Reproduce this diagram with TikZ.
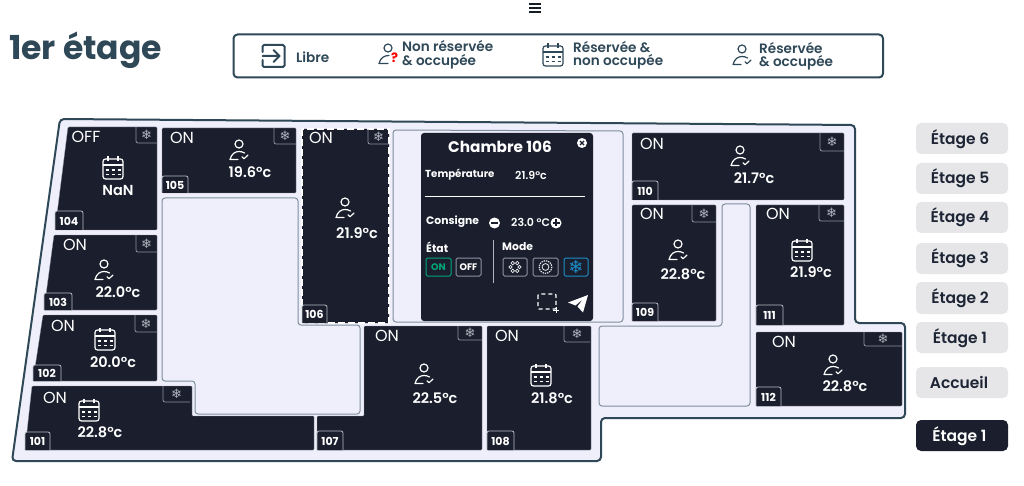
\documentclass[tikz,border=0pt]{standalone}
\usepackage{fontspec}
\setmainfont{Poppins}
\newfontfamily\snowfont{DejaVu Sans}
\newfontfamily\semi{Poppins SemiBold}
\newfontfamily\medi{Poppins Medium}
\definecolor{roomc}{HTML}{1A1E2D}
\definecolor{floorc}{HTML}{EFEFFB}
\definecolor{slatec}{HTML}{2F4858}
\definecolor{edgec}{HTML}{7F8E9E}
\definecolor{tabc}{HTML}{8C94A3}
\definecolor{btnc}{HTML}{E6E6E9}
\definecolor{greenc}{HTML}{00A878}
\definecolor{bluec}{HTML}{1C8FCB}
\newcommand\fsz[1]{\fontsize{#1}{#1}\selectfont}
\tikzset{
  x=1pt,y=-1pt,
  room/.style={fill=roomc,draw=tabc,line width=.3,rounded corners=1},
  freeroom/.style={fill=floorc,draw=edgec,line width=1,rounded corners=3},
  floorplan/.style={fill=floorc,draw=slatec,line width=2,rounded corners=4},
  stateon/.style={text=white,inner sep=0,font=\fsz{16}},
  temptext/.style={text=white,inner sep=0,font=\fsz{14.5}\semi},
  numtext/.style={text=white,inner sep=0,font=\fsz{11}\bfseries},
  snowicon/.style={text=tabc!70!white,inner sep=0,font=\fsz{13}\snowfont},
  legendtext/.style={text=slatec,inner sep=0,anchor=west,align=left,font=\fsz{13.6}\semi},
  btn/.style={fill=btnc,rounded corners=5,draw=none},
  btntext/.style={text=roomc!85!slatec,inner sep=0,font=\fsz{15.5}\semi},
  poptext/.style={text=white,inner sep=0,anchor=west,font=\fsz{10.2}\bfseries},
  modebtn/.style={draw=#1,line width=1,rounded corners=1.5},
  pics/person/.style={code={
    \draw[line width=1.2,line cap=round,line join=round]
      (0,-6) circle (4)
      (-1,9.5) -- (-9,9.5) .. controls (-7.5,3.5) and (-3.5,1.5) .. (0,1.5) .. controls (2,1.5) and (4,2) .. (5.5,3)
      (3,6.8) -- (5,8.8) -- (9,5);}},
  pics/personq/.style={code={
    \draw[line width=1.2,line cap=round,line join=round]
      (0,-6) circle (4)
      (0,9.5) -- (-9,9.5) .. controls (-7.5,3.5) and (-3.5,1.5) .. (1,1.5);}},
  pics/cal/.style={code={
    \draw[line width=1.2,rounded corners=2.5] (-10,-9) rectangle (10,11);
    \draw[line width=1.2] (-10,-3) -- (10,-3) (-5,-11.5) -- (-5,-7) (5,-11.5) -- (5,-7);
    \foreach \a in {-6,0,6}{\draw[line width=1.1] (\a-1.5,2) -- (\a+1.5,2) (\a-1.5,6.5) -- (\a+1.5,6.5);}}},
  pics/enter/.style={code={
    \draw[line width=2,rounded corners=1.5,line cap=round] (-11,-4) -- (-11,-11) -- (11,-11) -- (11,11) -- (-11,11) -- (-11,4);
    \draw[line width=2,line cap=round,line join=round] (-11,0) -- (6,0) (0,-6) -- (6,0) -- (0,6);}},
}
\newcommand\snowtab[4]{%
  \draw[draw=tabc,line width=.8,rounded corners=2] (#1,#2) -- (#1,#4) -- (#3,#4);
  \node[snowicon] at ({(#1+#3)/2},{(#2+#4)/2}) {❄};}
\newcommand\numtab[5]{%
  \draw[draw=tabc!60!white,line width=.8,fill=roomc,rounded corners=2] (#2,#5) -- (#2,#3) -- (#4,#3) -- (#4,#5);
  \node[numtext] at ({(#2+#4)/2},{(#3+#5)/2+.5}) {#1};}
\begin{document}
\begin{tikzpicture}
\useasboundingbox (0,0) rectangle (1024,486);
\fill[white] (0,0) rectangle (1024,486);
% menu
\draw[draw=slatec!40!black,line width=1.2] (529,4) -- (541,4) (529,8) -- (541,8) (529,12) -- (541,12);
% title
\node[text=slatec,inner sep=0,anchor=west,font=\fsz{33}\bfseries] (title) at (9,50) {1er étage};
% legend
\draw[draw=slatec,line width=2,rounded corners=4] (233.5,34.5) rectangle (883,77.5);
\pic[color=slatec] at (273.5,56) {enter};
\node[legendtext] (l1) at (296,57) {Libre};
\pic[color=slatec] at (388,54) {personq};
\node[text=red,inner sep=0,font=\fsz{13}\bfseries] (lq) at (394.5,58) {?};
\node[legendtext] (l2a) at (402,46) {Non réservée};
\node[legendtext] (l2b) at (402,62) {\& occupée};
\pic[color=slatec] at (553,55) {cal};
\node[legendtext] (l3a) at (573,47) {Réservée \&};
\node[legendtext] (l3b) at (573,62) {non occupée};
\pic[color=slatec] at (742,55) {person};
\node[legendtext] (l4a) at (759,48) {Réservée};
\node[legendtext] (l4b) at (759,63) {\& occupée};
% floor
\path[floorplan] (60,119) -- (855,125) -- (855,323) -- (905,323) -- (905,418) -- (601,418) -- (601,461) -- (12,461) -- cycle;
% free rooms
\path[freeroom] (162,198) -- (298,198) -- (298,325) -- (360,325) -- (360,414) -- (195,414) -- (195,381) -- (162,381) -- cycle;
\path[freeroom] (393,130) -- (623,131) -- (623,322) -- (393,322) -- cycle;
\path[freeroom] (599,326) -- (722,326) -- (722,204) -- (750,204) -- (750,406) -- (599,406) -- cycle;
% rooms
\path[room] (68,127) -- (157,127) -- (157,230) -- (55,230) -- cycle;
\path[room] (162,128) -- (296,128) -- (296,193) -- (162,193) -- cycle;
\path[room] (54,235) -- (157,235) -- (157,310) -- (44,310) -- cycle;
\path[room] (43,315) -- (157,315) -- (157,381) -- (33,381) -- cycle;
\path[room] (32,386) -- (192,386) -- (192,416) -- (314,416) -- (314,450) -- (25,450) -- cycle;
\path[room] (364,326) -- (482,326) -- (482,450) -- (317,450) -- (317,416) -- (364,416) -- cycle;
\path[room] (487,326) -- (591,326) -- (591,450) -- (487,450) -- cycle;
\path[room] (632,133) -- (844,133) -- (844,200) -- (632,200) -- cycle;
\path[room] (632,205) -- (716,205) -- (716,321) -- (632,321) -- cycle;
\path[room] (756,205) -- (844,205) -- (844,325) -- (756,325) -- cycle;
\path[room] (756,332) -- (902,332) -- (902,406) -- (756,406) -- cycle;
\path[room,draw=none] (302,129) -- (389,129) -- (389,323) -- (302,323) -- cycle;
\draw[draw=white,line width=1.6,dash pattern=on 7 off 3] (302,129) -- (302,323) -- (389,323) -- (389,129) -- cycle;
% tabs
\snowtab{136}{127}{157}{143}
\snowtab{274}{128}{296}{144}
\snowtab{368}{129}{389}{144}
\snowtab{136}{235}{157}{252}
\snowtab{135}{315}{157}{332}
\snowtab{163}{386}{190}{402}
\snowtab{458}{326}{482}{340}
\snowtab{564}{326}{590}{342}
\snowtab{692}{205}{716}{222}
\snowtab{820}{133}{844}{151}
\snowtab{819}{205}{844}{221}
\snowtab{864}{332}{902}{346}
\numtab{104}{55}{211}{83}{230}
\numtab{105}{162}{176}{188}{193}
\numtab{106}{302}{305}{327}{323}
\numtab{103}{44}{293}{72}{310}
\numtab{102}{33}{365}{61}{381}
\numtab{101}{25}{432}{50}{450}
\numtab{107}{317}{431}{343}{450}
\numtab{108}{487}{431}{514}{450}
\numtab{109}{632}{303}{658}{321}
\numtab{110}{632}{181}{658}{200}
\numtab{111}{756}{305}{783}{325}
\numtab{112}{756}{387}{781}{406}
% room contents
\node[stateon] (s104) at (86,137) {OFF};
\pic[color=white] at (113,168) {cal};
\node[temptext] (t104) at (118,190) {NaN};
\node[stateon] (s105) at (182,138) {ON};
\pic[color=white] at (239,150) {person};
\node[temptext] (t105) at (250,172) {19.6°c};
\node[stateon] (s106) at (321,138) {ON};
\pic[color=white] at (345,208) {person};
\node[temptext] (t106) at (357,233) {21.9°c};
\node[stateon] (s103) at (75,245) {ON};
\pic[color=white] at (104,270) {person};
\node[temptext] (t103) at (118,292) {22.0°c};
\node[stateon] (s102) at (63,326) {ON};
\pic[color=white] at (105,339) {cal};
\node[temptext] (t102) at (113,362) {20.0°c};
\node[stateon] (s101) at (55,398) {ON};
\pic[color=white] at (89,410) {cal};
\node[temptext] (t101) at (100,432) {22.8°c};
\node[stateon] (s107) at (387,336) {ON};
\pic[color=white] at (424,374) {person};
\node[temptext] (t107) at (435,398) {22.5°c};
\node[stateon] (s108) at (507,336) {ON};
\pic[color=white] at (541,375) {cal};
\node[temptext] (t108) at (552,398) {21.8°c};
\node[stateon] (s109) at (652,214) {ON};
\pic[color=white] at (678,250) {person};
\node[temptext] (t109) at (683,274) {22.8°c};
\node[stateon] (s110) at (652,144) {ON};
\pic[color=white] at (740,156) {person};
\node[temptext] (t110) at (754,178) {21.7°c};
\node[stateon] (s111) at (778,214) {ON};
\pic[color=white] at (802,250) {cal};
\node[temptext] (t111) at (811,272) {21.9°c};
\node[stateon] (s112) at (784,342) {ON};
\pic[color=white] at (833,365) {person};
\node[temptext] (t112) at (845,386) {22.8°c};
% popup
\fill[roomc,rounded corners=3] (421,133) rectangle (593,321);
\node[text=white,inner sep=0,font=\fsz{15.3}\bfseries] (ptitle) at (500,147) {Chambre 106};
\fill[white] (582,143) circle (5);
\draw[draw=roomc,line width=1.3] (580,141) -- (584,145) (584,141) -- (580,145);
\node[poptext] (ptemp) at (425,175) {Température};
\node[poptext,font=\fsz{11}\semi] (pval) at (515,175) {21.9°c};
\draw[draw=white,line width=.9] (425,196) -- (585,196);
\node[poptext,font=\fsz{10.8}\bfseries] (pcons) at (426,222) {Consigne};
\fill[white] (494.5,223) circle (5.5);
\draw[draw=roomc,line width=1.5] (491,223) -- (498,223);
\node[poptext,font=\fsz{11}\semi] (pset) at (511,222) {23.0 °C};
\fill[white] (556,223) circle (5.5);
\draw[draw=roomc,line width=1.3] (552.5,223) -- (559.5,223) (556,219.5) -- (556,226.5);
\node[poptext,font=\fsz{10.8}\bfseries] (petat) at (426,247) {État};
\node[poptext,font=\fsz{10.8}\bfseries] (pmode) at (502,247) {Mode};
\draw[draw=tabc!70!white,line width=1] (493,240) -- (493,283);
\draw[modebtn=greenc] (426,258) rectangle (451,276);
\node[text=greenc,inner sep=0,font=\fsz{9.5}\bfseries] (bon) at (438.5,267) {ON};
\draw[modebtn=tabc] (456,258) rectangle (481,276);
\node[text=white,inner sep=0,font=\fsz{9.5}\bfseries] (boff) at (468.5,267) {OFF};
\draw[modebtn=tabc] (503,258) rectangle (527,276);
\foreach \a in {0,60,...,300}{\draw[draw=white!80!tabc,line width=.7] ([shift={(\a:4.5)}]515,267) circle (1.7);}
\draw[modebtn=tabc] (533,258) rectangle (558,276);
\draw[draw=white!80!tabc,line width=.8] (545.5,267) circle (3.4);
\draw[draw=white!80!tabc,line width=1.2,dash pattern=on 1.3 off 1] (545.5,267) circle (6.3);
\draw[modebtn=bluec] (564,258) rectangle (588,276);
\node[text=bluec,inner sep=0,font=\fsz{18}\snowfont] (bsnow) at (576,267) {❄};
\draw[draw=white,line width=1.1,dash pattern=on 4 off 3,rounded corners=1] (538,294) rectangle (556,309);
\draw[draw=white,line width=1] (553,310) -- (559,310) (556,307) -- (556,313);
\fill[white] (588,295) -- (568,302.5) -- (575.5,305.5) -- (583,299) -- (577.5,306.5) -- (583,312.5) -- cycle;
% floor buttons
\path[btn] (916,123) rectangle (1008,154);
\node[btntext] (e6) at (960,139) {Étage 6};
\path[btn] (916,163) rectangle (1008,194);
\node[btntext] (e5) at (960,178) {Étage 5};
\path[btn] (916,202) rectangle (1008,233);
\node[btntext] (e4) at (960,217) {Étage 4};
\path[btn] (916,243) rectangle (1008,274);
\node[btntext] (e3) at (960,258.5) {Étage 3};
\path[btn] (916,282) rectangle (1008,314);
\node[btntext] (e2) at (960,298.5) {Étage 2};
\path[btn] (916,322) rectangle (1008,353);
\node[btntext] (e1) at (960,338.5) {Étage 1};
\path[btn] (916,367) rectangle (1008,398);
\node[btntext] (ea) at (959,382.5) {Accueil};
\path[btn,fill=roomc] (916,420) rectangle (1008,451);
\node[btntext,text=white] (ec) at (959.5,436) {Étage 1};
\end{tikzpicture}
\end{document}
